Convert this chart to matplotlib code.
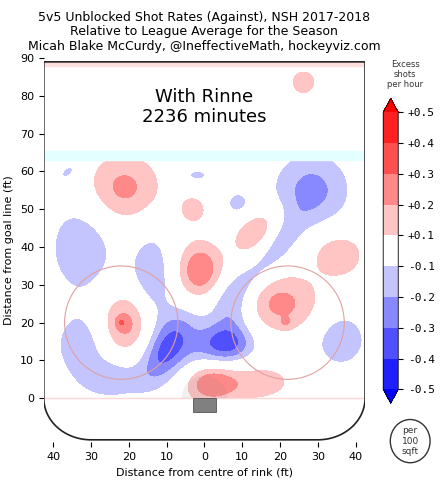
import numpy as np
import matplotlib
matplotlib.use("Agg")
import matplotlib.pyplot as plt
from matplotlib.path import Path
from matplotlib.patches import PathPatch, Circle, Rectangle, Wedge

# contour levels and colours (excess shots per hour, per 100 sqft)
levels = [-0.5, -0.4, -0.3, -0.2, -0.1, 0.1, 0.2, 0.3, 0.4, 0.5]
level_labels = ["-0.5", "-0.4", "-0.3", "-0.2", "-0.1", "+0.1", "+0.2", "+0.3", "+0.4", "+0.5"]
fill_colors = ["#0000ff", "#2020ff", "#5050ff", "#8888ff", "#c4c4ff", "#ffffff",
               "#ffc4c4", "#ff8888", "#ff5050", "#ff2020", "#ff0000"]

# hot / cold spots: centre (ft), spreads (ft), tilt (deg), peak
blob_x = [26.2, -21.5, -3.0, 13.5, 35.4, -1.2, -20.3, -22.0, 20.0, 21.5, 1.3, 13.0,
          -36.0, -2.0, 8.7, 28.3, 20.0, 11.0, 7.5, 36.0, -32.5, -14.0, -33.0, -25.0,
          -10.0, 6.0, -3.0]
blob_y = [83.6, 55.5, 50.0, 44.0, 38.0, 33.8, 19.3, 20.0, 24.8, 20.0, 4.2, 4.5,
          60.0, 59.0, 51.6, 55.0, 41.0, 31.0, 24.0, 15.5, 40.0, 32.0, 14.0, 5.0,
          13.0, 14.5, 13.0]
blob_su = [3.0, 7.2, 3.0, 5.0, 5.2, 4.2, 4.8, 1.0, 7.6, 1.0, 4.8, 8.0,
           2.5, 3.0, 2.8, 7.3, 6.0, 6.0, 4.0, 5.3, 6.5, 4.2, 5.0, 6.0,
           7.5, 4.5, 12.0]
blob_sv = [3.0, 6.6, 3.0, 3.1, 4.6, 5.4, 6.0, 1.0, 5.8, 1.0, 3.8, 4.0,
           1.5, 1.6, 2.8, 7.3, 3.0, 3.0, 5.0, 5.6, 9.5, 9.5, 6.0, 4.0,
           3.5, 3.5, 6.5]
blob_angle = [0, 0, 0, 44, 0, 0, 0, 0, 0, 0, 0, 0,
              40, 0, 0, 0, 55, 40, 0, 0, 0, 0, 0, 0,
              62, 0, 0]
blob_amp = [0.15, 0.235, 0.14, 0.20, 0.18, 0.29, 0.29, 0.10, 0.235, 0.08, 0.29, 0.18,
            -0.13, -0.13, -0.13, -0.24, -0.15, -0.15, -0.17, -0.18, -0.18, -0.18, -0.16, -0.16,
            -0.22, -0.25, -0.17]

RINK_W = 42.5


def rink_path():
    t = np.linspace(np.pi, 1.5 * np.pi, 30)
    left = np.c_[-30 + 12.5 * np.cos(t), 0 + 11.0 * np.sin(t)]
    t2 = np.linspace(1.5 * np.pi, 2 * np.pi, 30)
    right = np.c_[30 + 12.5 * np.cos(t2), 0 + 11.0 * np.sin(t2)]
    pts = np.vstack([[[-RINK_W, 89]], left, right, [[RINK_W, 89]], [[-RINK_W, 89]]])
    return Path(pts)


def field(X, Y):
    Z = np.zeros_like(X)
    for x0, y0, su, sv, ang, a in zip(blob_x, blob_y, blob_su, blob_sv, blob_angle, blob_amp):
        th = np.radians(ang)
        dx, dy = X - x0, Y - y0
        u = dx * np.cos(th) + dy * np.sin(th)
        v = -dx * np.sin(th) + dy * np.cos(th)
        Z += a * np.exp(-0.5 * (u ** 2 / su ** 2 + v ** 2 / sv ** 2))
    return Z


fig = plt.figure(figsize=(4.42, 4.8), dpi=100)
ax = fig.add_axes([0.097, 0.079, 0.731, 0.8])

xs = np.linspace(-RINK_W, RINK_W, 300)
ys = np.linspace(0, 89, 320)
X, Y = np.meshgrid(xs, ys)
Z = field(X, Y)

cs = ax.contourf(X, Y, Z, levels=levels, colors=fill_colors, extend="both")
outline = rink_path()
clip = PathPatch(outline, transform=ax.transData, facecolor="none", edgecolor="none")
ax.add_patch(clip)
cs.set_clip_path(clip)

# rink markings
ax.axhspan(88, 89, color="#ffdede", zorder=1)
ax.axhspan(63, 65.5, color="#e4ffff", zorder=1)
ax.plot([-RINK_W, RINK_W], [0, 0], color="#ffd6d6", lw=1, zorder=2)
for cx in (-22, 22):
    ax.add_patch(Circle((cx, 20), 15, fill=False, edgecolor="#e0a0a0", lw=0.8, zorder=3))
ax.add_patch(Wedge((0, 0), 6, 0, 180, facecolor="#888888", alpha=0.12, lw=0, zorder=3))
ax.add_patch(Rectangle((-3, -3.7), 6, 3.7, facecolor="#808080", edgecolor="#555555", lw=0.6, zorder=4))
ax.add_patch(PathPatch(outline, facecolor="none", edgecolor="#222222", lw=1.2, zorder=5))

ax.text(0, 77, "With Rinne\n2236 minutes", ha="center", va="center", fontsize=13, linespacing=1.15)

ax.set_xlim(-RINK_W, RINK_W)
ax.set_ylim(-11.6, 90)
ax.set_aspect("equal")
for s in ax.spines.values():
    s.set_visible(False)
xt = list(range(-40, 41, 10))
ax.set_xticks(xt)
ax.set_xticklabels([str(abs(v)) for v in xt], fontsize=8)
ax.set_yticks(range(0, 91, 10))
ax.tick_params(axis="y", labelsize=8)
ax.set_xlabel("Distance from centre of rink (ft)", fontsize=8)
ax.set_ylabel("Distance from goal line (ft)", fontsize=8)
ax.set_title("5v5 Unblocked Shot Rates (Against), NSH 2017-2018\n"
             "Relative to League Average for the Season\n"
             "Micah Blake McCurdy, @IneffectiveMath, hockeyviz.com",
             fontsize=9, linespacing=1.15, pad=6)

cax = fig.add_axes([0.867, 0.160, 0.034, 0.635])
cb = fig.colorbar(cs, cax=cax, ticks=levels)
cb.ax.set_yticklabels(level_labels, family="DejaVu Sans Mono", fontsize=8)
cb.outline.set_linewidth(0.6)
fig.text(0.917, 0.845, "Excess\nshots\nper hour", ha="center", va="center", fontsize=6,
         color="#333333", linespacing=1.2)

fig.add_artist(Circle((0.928, 0.081), 0.045, transform=fig.transFigure, fill=False,
                      edgecolor="#333333", lw=1))
fig.text(0.928, 0.081, "per\n100\nsqft", ha="center", va="center", fontsize=6.5,
         color="#333333", linespacing=1.2)

fig.savefig("out.png", dpi=100)
